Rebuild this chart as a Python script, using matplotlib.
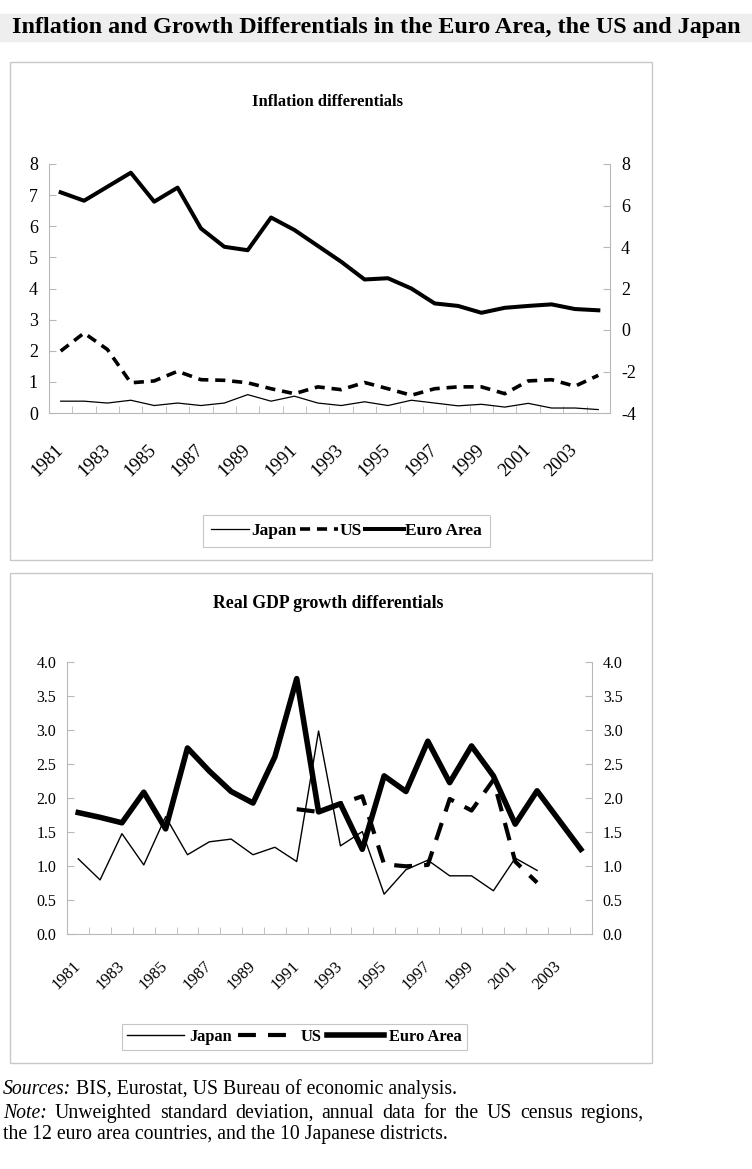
import matplotlib
matplotlib.use("Agg")
import matplotlib.pyplot as plt
from matplotlib.patches import Rectangle
from matplotlib.transforms import ScaledTranslation
import numpy as np

plt.rcParams['font.family'] = ['Liberation Serif', 'DejaVu Serif']
plt.rcParams['axes.unicode_minus'] = False

years = list(range(1981, 2005))
year_labels = [str(y) for y in years[::2]]

# inflation differentials (std dev, %)
infl_japan = [0.38, 0.38, 0.32, 0.41, 0.24, 0.32, 0.24, 0.32, 0.59, 0.38, 0.54, 0.32,
              0.24, 0.36, 0.24, 0.41, 0.32, 0.23, 0.28, 0.19, 0.31, 0.16, 0.16, 0.11]
infl_us = [1.99, 2.57, 2.04, 0.97, 1.03, 1.34, 1.07, 1.05, 0.97, 0.78, 0.62, 0.84,
           0.75, 0.98, 0.78, 0.57, 0.78, 0.84, 0.84, 0.62, 1.03, 1.07, 0.86, 1.21]
infl_euro = [7.09, 6.82, 7.27, 7.72, 6.79, 7.24, 5.93, 5.34, 5.23, 6.28, 5.88, 5.37,
             4.86, 4.29, 4.33, 4.00, 3.52, 3.44, 3.22, 3.38, 3.44, 3.49, 3.34, 3.30]

# real GDP growth differentials
gdp_japan = [1.11, 0.80, 1.48, 1.02, 1.73, 1.17, 1.36, 1.40, 1.17, 1.28, 1.07, 2.99,
             1.30, 1.51, 0.59, 0.95, 1.09, 0.86, 0.86, 0.64, 1.12, 0.94, None, None]
gdp_us = [None] * 10 + [1.84, 1.80, 1.92, 2.03, 1.03, 1.00, 1.02, 1.99, 1.82, 2.27,
                        1.07, 0.76, None, None]
gdp_euro = [1.79, 1.72, 1.64, 2.09, 1.55, 2.74, 2.40, 2.10, 1.93, 2.61, 3.76, 1.80,
            1.92, 1.25, 2.33, 2.10, 2.84, 2.23, 2.77, 2.33, 1.62, 2.11, 1.68, 1.25]

W, H = 752, 1169
fig = plt.figure(figsize=(W / 100, H / 100), dpi=100)
GRAY = '#b8b8b8'


def frac(x0, y0, x1, y1):
    # pixel box (top-left origin) -> figure fraction rect
    return [x0 / W, 1 - y1 / H, (x1 - x0) / W, (y1 - y0) / H]


def to_arr(vals):
    return np.array([np.nan if v is None else v for v in vals], dtype=float)


bg = fig.add_axes([0, 0, 1, 1])
bg.axis('off')
bg.set_xlim(0, W)
bg.set_ylim(H, 0)

# title bar
bg.add_patch(Rectangle((0, 14), W, 27, color='#eeeeee', zorder=0))
bg.text(376, 28, 'Inflation and Growth Differentials in the Euro Area, the US and Japan',
        ha='center', va='center', fontsize=17.4, fontweight='bold')

# panel frames
bg.add_patch(Rectangle((10, 62), 642, 498, fill=False, edgecolor='#c8c8c8', lw=1))
bg.add_patch(Rectangle((10, 573), 642, 490, fill=False, edgecolor='#c8c8c8', lw=1))

x = np.arange(len(years))


def style_axes(ax, ax2, lab_size, year_size, pad_y, shift_px):
    ax.set_xlim(-0.5, len(years) - 0.5)
    for side in ['top', 'right']:
        ax.spines[side].set_visible(False)
    for side in ['left', 'bottom']:
        ax.spines[side].set_color(GRAY)
        ax.spines[side].set_linewidth(0.8)
    for side in ['top', 'left', 'bottom']:
        ax2.spines[side].set_visible(False)
    ax2.spines['right'].set_color(GRAY)
    ax2.spines['right'].set_linewidth(0.8)
    ax.set_xticks(x[::2])
    ax.set_xticklabels(year_labels, rotation=45, ha='right', va='center',
                       rotation_mode='anchor', fontsize=year_size)
    off = ScaledTranslation(shift_px / 100, 0, fig.dpi_scale_trans)
    for lab in ax.get_xticklabels():
        lab.set_transform(lab.get_transform() + off)
    ax.set_xticks(np.arange(-0.5, len(years)), minor=True)
    ax.tick_params(axis='x', which='major', length=0, pad=pad_y)
    ax.tick_params(axis='x', which='minor', direction='in', length=5, color=GRAY)
    ax.tick_params(axis='y', direction='in', length=5, color=GRAY, labelsize=lab_size, pad=8)
    ax2.tick_params(axis='y', direction='in', length=5, color=GRAY, labelsize=lab_size, pad=8)


# ---- top panel: inflation
ax1 = fig.add_axes(frac(49, 164, 610, 413))
ax1.plot(x, infl_japan, color='black', lw=0.9, label='Japan')
ax1.plot(x, infl_us, color='black', lw=2.6, dashes=(2.8, 1.9), label='US')
ax1.plot(x, infl_euro, color='black', lw=2.9, label='Euro Area')
ax1.set_ylim(0, 8)
ax1.set_yticks(range(0, 9))
ax1r = ax1.twinx()
ax1r.set_ylim(-4, 8)
ax1r.set_yticks(range(-4, 9, 2))
style_axes(ax1, ax1r, 13, 13.5, 25, -3)
bg.text(328, 102, 'Inflation differentials', ha='center', va='center',
        fontsize=12, fontweight='bold')

h, l = ax1.get_legend_handles_labels()
leg1 = fig.legend(h, l, loc='center', bbox_to_anchor=(346.5 / W, 1 - 531 / H), ncol=3,
                  frameon=True, fancybox=False, edgecolor=GRAY, handlelength=2.2,
                  handletextpad=0.1, columnspacing=0.2, borderpad=0.45,
                  prop={'weight': 'bold', 'size': 12.5})
leg1.get_frame().set_linewidth(0.8)

# ---- bottom panel: GDP growth
ax2 = fig.add_axes(frac(67.3, 662.3, 591.7, 934.3))
ax2.plot(x, to_arr(gdp_japan), color='black', lw=1.0, label='Japan')
ax2.plot(x, to_arr(gdp_us), color='black', lw=3.0, dashes=(4.3, 2.9), label='US')
ax2.plot(x, to_arr(gdp_euro), color='black', lw=4.0, label='Euro Area')
ax2.set_ylim(0, 4)
ticks2 = np.arange(0, 4.01, 0.5)
ax2.set_yticks(ticks2)
ax2.set_yticklabels([f'{v:.1f}' for v in ticks2])
ax2r = ax2.twinx()
ax2r.set_ylim(0, 4)
ax2r.set_yticks(ticks2)
ax2r.set_yticklabels([f'{v:.1f}' for v in ticks2])
style_axes(ax2, ax2r, 11.5, 12, 21, -16)
bg.text(328, 603, 'Real GDP growth differentials', ha='center', va='center',
        fontsize=12.8, fontweight='bold')

h, l = ax2.get_legend_handles_labels()
leg2 = fig.legend(h, l, loc='center', bbox_to_anchor=(294.5 / W, 1 - 1037 / H), ncol=3,
                  frameon=True, fancybox=False, edgecolor=GRAY, handlelength=3.5,
                  handletextpad=0.3, columnspacing=0.35, borderpad=0.3,
                  prop={'weight': 'bold', 'size': 11.8})
leg2.get_frame().set_linewidth(0.8)

# ---- footer
FS = 14.2
t1 = bg.text(3, 1094, 'Sources:', fontsize=FS, style='italic', va='baseline')
bg.annotate(' BIS, Eurostat, US Bureau of economic analysis.', xy=(1, 0), xycoords=t1,
            va='bottom', fontsize=FS)

# justified note line
renderer = fig.canvas.get_renderer()
note_words = ['Unweighted', 'standard', 'deviation,', 'annual', 'data', 'for', 'the',
              'US', 'census', 'regions,']
t2 = bg.text(3, 1118, 'Note:', fontsize=FS, style='italic', va='baseline')
word_texts = [bg.text(0, 1118, w, fontsize=FS, va='baseline') for w in note_words]
inv = bg.transData.inverted()


def width_of(t):
    bb = t.get_window_extent(renderer)
    p0 = inv.transform((bb.x0, bb.y0))
    p1 = inv.transform((bb.x1, bb.y0))
    return p1[0] - p0[0]


start = 3 + width_of(t2)
widths = [width_of(t) for t in word_texts]
gap = (644 - start - sum(widths)) / len(note_words)
pos = start + gap
for t, w in zip(word_texts, widths):
    t.set_x(pos)
    pos += w + gap

bg.text(3, 1139.5, 'the 12 euro area countries, and the 10 Japanese districts.',
        fontsize=FS, va='baseline')

fig.savefig('out.png', dpi=100)
